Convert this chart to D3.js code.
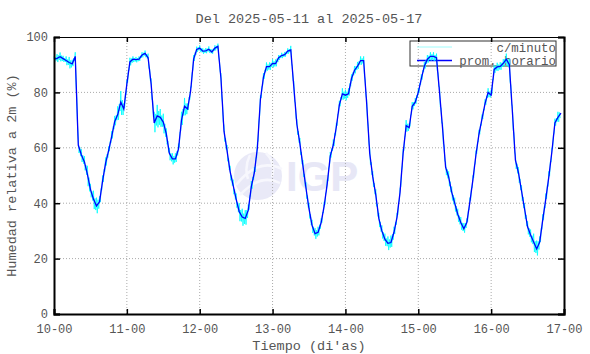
<!DOCTYPE html>
<html>
<head>
<meta charset="utf-8">
<script src="https://cdn.jsdelivr.net/npm/d3@7"></script>
<style>
  body { margin: 0; background: #fff; }
  text { font-family: "Liberation Mono", "DejaVu Sans Mono", monospace; fill: #555; }
</style>
</head>
<body>
<svg id="chart"></svg>
<script>
const title = "Del 2025-05-11 al 2025-05-17";
const xLabel = "Tiempo (di'as)";
const yLabel = "Humedad relativa a 2m (%)";
const startDay = Date.UTC(2025, 4, 10);
const endDay = Date.UTC(2025, 4, 17);
const yTicks = [0, 20, 40, 60, 80, 100];
const legendNames = ["c/minuto", "prom. horario"];

// hourly mean (%), one row per day, hours 00..23
const day10 = [92, 92.3, 92.9, 92.2, 91.5, 90.8, 90.3, 93, 61, 57.5, 55, 50.5, 45, 41.5, 39, 40.5, 48, 54.5, 59, 64, 69.5, 72, 76.5, 74];
const day11 = [83, 91, 92, 91.8, 92, 93.5, 94.1, 92.5, 83, 69, 71.5, 71, 69.3, 65, 58, 56, 56, 59.5, 70, 75, 74, 80.5, 92, 95.5];
const day12 = [96, 94.9, 95, 95.6, 94.6, 96, 96.6, 85, 66, 59, 51.5, 46.5, 41.5, 37, 35, 34.5, 37.5, 46, 51, 60, 77.5, 85.5, 89.3, 89.3];
const day13 = [90.5, 90.4, 92.5, 93.3, 93.6, 94.9, 95.3, 82, 68.5, 61.5, 53.5, 45.5, 38, 32, 29, 29.5, 33, 39, 47, 57, 61, 67.5, 75.5, 79.5];
const day14 = [79, 79.5, 85, 88, 89.5, 91.5, 91.5, 76, 58, 49.5, 43, 34.5, 30, 27, 25.5, 25.8, 29.5, 35, 44, 58, 68, 67.3, 75, 76.5];
const day15 = [80, 85, 89.5, 92, 93, 93, 92.5, 80, 67, 53, 49.5, 44, 40, 36, 33, 30.8, 33, 40.5, 48.5, 57.5, 65, 70.5, 76, 80];
const day16 = [79, 88.3, 89.2, 89.4, 90.5, 92, 90, 73, 55.5, 51, 44.5, 38, 31.5, 28.5, 26, 23.5, 26, 34, 41.5, 49.5, 58.5, 69, 71, 72.5];

// how far the per-minute trace strays from the hourly mean, per hour
const spread10 = [1, 1.5, 1.5, 1, 1.5, 2, 1.5, 1.5, 2, 2, 2, 3, 2, 3, 3, 2, 2, 2, 1.5, 2, 2, 3, 4, 2];
const spread11 = [1.5, 1.5, 1, 1, 1, 1, 1, 1.5, 2, 4, 4, 3, 3, 2, 2, 2, 2, 2, 3, 3, 2, 1.5, 1.5, 1];
const spread12 = [1, 1, 1, 1, 1, 1, 1, 2, 2, 2, 2, 2, 2, 3, 3, 3, 2, 2, 2, 2, 1.5, 1.5, 1.5, 1.5];
const spread13 = [1.5, 1.5, 1, 1, 1, 1, 1.5, 2, 2, 2, 2, 2, 2, 2, 2, 2, 1.5, 1.5, 1.5, 1.5, 2, 1.5, 1.5, 2];
const spread14 = [2, 2, 1.5, 1.5, 1.5, 1.5, 1.5, 1.5, 2, 2, 2, 2, 2, 2, 2.5, 2.5, 2, 1.5, 1.5, 1.5, 2, 1.5, 1.5, 1.5];
const spread15 = [1.5, 1.5, 1.5, 1.5, 1.5, 1.5, 1.5, 2, 2, 2, 2, 2, 2, 2, 2, 2, 1.5, 1.5, 1.5, 1.5, 1.5, 1.5, 1.5, 1.5];
const spread16 = [2, 1.5, 1.5, 1.5, 1.5, 2, 2, 2, 2, 2, 2, 2, 2, 2, 3, 3, 2, 2, 2, 2, 1.5, 1.5, 2, 2];

const hourly = [].concat(day10, day11, day12, day13, day14, day15, day16);
const spread = [].concat(spread10, spread11, spread12, spread13, spread14, spread15, spread16);

const W = 590, H = 354;
const margin = { top: 37, right: 26, bottom: 40, left: 54 };
const width = W - margin.left - margin.right;
const height = H - margin.top - margin.bottom;

const svg = d3.select("#chart").attr("width", W).attr("height", H);

const x = d3.scaleUtc().domain([startDay, endDay]).range([0, width]);
const y = d3.scaleLinear().domain([0, 100]).range([height, 0]);
const dayTicks = d3.utcDay.range(startDay, endDay + 1);
const hourMs = 3600e3;

const g = svg.append("g").attr("transform", `translate(${margin.left},${margin.top})`);

// watermark
const wm = g.append("g").attr("opacity", 0.8);
wm.append("circle").attr("cx", 204).attr("cy", 139).attr("r", 24).attr("fill", "#e4e4f6");
wm.append("path")
  .attr("d", "M182,148 Q204,120 228,132 M186,158 Q206,136 226,146 M196,118 Q190,130 194,142 M212,116 Q222,126 218,140")
  .attr("fill", "none").attr("stroke", "#f6f6fd").attr("stroke-width", 2.5);
wm.append("text").attr("x", 232).attr("y", 154)
  .style("font-family", "'Liberation Sans', Arial, sans-serif")
  .style("font-weight", "bold").style("font-size", "42px").style("fill", "#e2e2f4")
  .text("IGP");

// grid
g.append("g").selectAll("line")
  .data(dayTicks.slice(1, -1))
  .join("line")
  .attr("x1", d => x(d)).attr("x2", d => x(d))
  .attr("y1", 0).attr("y2", height)
  .attr("stroke", "#aaa").attr("stroke-dasharray", "1,2");
g.append("g").selectAll("line")
  .data(yTicks.slice(1, -1))
  .join("line")
  .attr("x1", 0).attr("x2", width)
  .attr("y1", d => y(d)).attr("y2", d => y(d))
  .attr("stroke", "#aaa").attr("stroke-dasharray", "1,2");

// legend (transparent box, the data draws over it)
const lg = g.append("g").attr("transform", `translate(${410 - margin.left},${41 - margin.top})`);
lg.append("rect").attr("width", 146).attr("height", 25)
  .attr("fill", "none").attr("stroke", "#333").attr("stroke-width", 1);
lg.append("line").attr("x1", 7).attr("x2", 42).attr("y1", 6).attr("y2", 6)
  .attr("stroke", "#9ffcfc").attr("stroke-width", 1);
lg.append("line").attr("x1", 7).attr("x2", 42).attr("y1", 19.5).attr("y2", 19.5)
  .attr("stroke", "#0000ff").attr("stroke-width", 1.3);
lg.selectAll("text.lbl")
  .data(legendNames)
  .join("text")
  .attr("class", "lbl")
  .attr("x", 146).attr("y", (d, i) => 10.5 + i * 13)
  .attr("text-anchor", "end")
  .style("font-size", "12.4px")
  .text(d => d);

// per-minute trace: wiggle inside each hour within the read spread
const pattern = [1, -1, 0.5, -0.7];
const minutePts = [];
for (let i = 0; i < hourly.length - 1; i++) {
  for (let k = 0; k < 4; k++) {
    const base = hourly[i] + (hourly[i + 1] - hourly[i]) * k / 4;
    minutePts.push([startDay + (i + k / 4) * hourMs, base + spread[i] * pattern[k]]);
  }
}
const line = d3.line().x(d => x(d[0])).y(d => y(d[1]));

g.append("path")
  .datum(minutePts)
  .attr("d", line)
  .attr("fill", "none")
  .attr("stroke", "#00ffff")
  .attr("stroke-width", 0.8);

g.append("path")
  .datum(hourly.map((v, i) => [startDay + i * hourMs, v]))
  .attr("d", line)
  .attr("fill", "none")
  .attr("stroke", "#0000ff")
  .attr("stroke-width", 1.3);

// axes
const fmt = d3.utcFormat("%d-%H");
const xAxis = g.append("g").attr("transform", `translate(0,${height})`)
  .call(d3.axisBottom(x).tickValues(dayTicks).tickFormat(fmt).tickSize(-5).tickPadding(10));
const xTop = g.append("g")
  .call(d3.axisTop(x).tickValues(dayTicks).tickFormat("").tickSize(-5));
const yAxis = g.append("g")
  .call(d3.axisLeft(y).tickValues(yTicks).tickSize(-6).tickPadding(6));
const yRight = g.append("g").attr("transform", `translate(${width},0)`)
  .call(d3.axisRight(y).tickValues(yTicks).tickFormat("").tickSize(-6));

[xAxis, xTop, yAxis, yRight].forEach(a => {
  a.select(".domain").attr("stroke", "#000");
  a.selectAll(".tick line").attr("stroke", "#000").attr("stroke-width", 1.5);
  a.selectAll("text").style("font-size", "12px").attr("fill", "#555");
});
xAxis.select(".domain").attr("stroke-width", 2);
yAxis.select(".domain").attr("stroke-width", 2);
yRight.select(".domain").attr("stroke-width", 2);
xTop.select(".domain").attr("stroke-width", 1);

// titles
svg.append("text").attr("x", margin.left + width / 2).attr("y", 23)
  .attr("text-anchor", "middle").style("font-size", "13.5px").text(title);
svg.append("text").attr("x", margin.left + width / 2).attr("y", 350)
  .attr("text-anchor", "middle").style("font-size", "13.5px").text(xLabel);
svg.append("text")
  .attr("transform", `translate(16,${margin.top + height / 2}) rotate(-90)`)
  .attr("text-anchor", "middle").style("font-size", "13.5px").text(yLabel);
</script>
</body>
</html>
